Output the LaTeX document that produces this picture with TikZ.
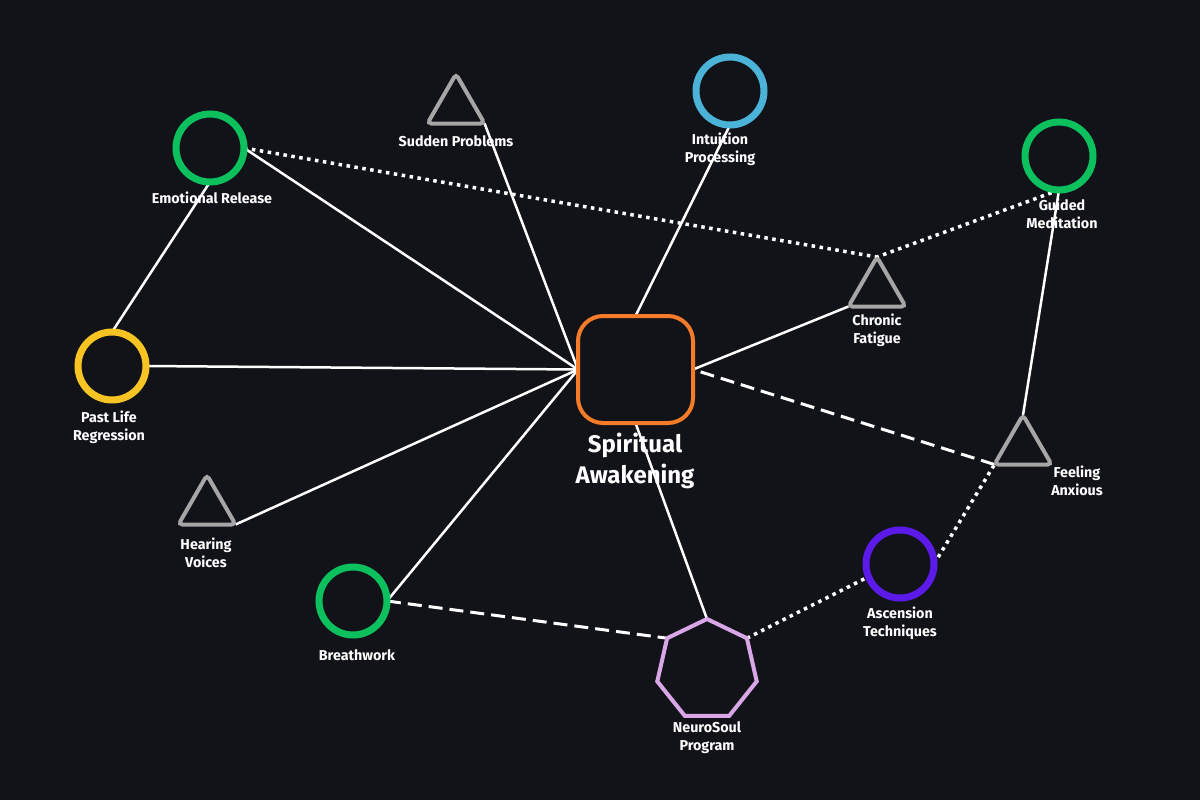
\documentclass[tikz,border=0pt]{standalone}
\usepackage{fontspec}
\setmainfont{Fira Sans}
\usetikzlibrary{shapes.geometric}
\definecolor{bg}{HTML}{121319}
\definecolor{cgreen}{HTML}{0CC05E}
\definecolor{cblue}{HTML}{4CB3D8}
\definecolor{cyellow}{HTML}{F8C424}
\definecolor{cpurple}{HTML}{5C1AEA}
\definecolor{corange}{HTML}{F47B2A}
\definecolor{clilac}{HTML}{D9A6E8}
\definecolor{cgray}{HTML}{A6A6A6}
\pgfdeclarelayer{bglayer}
\pgfdeclarelayer{labels}
\pgfdeclarelayer{edges}
\pgfsetlayers{bglayer,labels,edges,main}
\tikzset{
  circnode/.style={circle, draw=#1, line width=7pt, minimum size=68pt, inner sep=0pt, outer sep=0pt},
  trinode/.style={regular polygon, regular polygon sides=3, draw=cgray, line width=4pt, rounded corners=4pt, minimum size=66pt, inner sep=0pt, outer sep=0pt},
  hepnode/.style={regular polygon, regular polygon sides=7, draw=clilac, line width=4pt, minimum size=102pt, inner sep=0pt, outer sep=0pt},
  sqnode/.style={rectangle, draw=corange, line width=4pt, rounded corners=25pt, minimum width=115pt, minimum height=107pt, inner sep=0pt, outer sep=0pt},
  lbl/.style={text=white, font=\bfseries\fontsize{14.3}{18}\selectfont, align=center, inner sep=0pt},
  biglbl/.style={text=white, font=\bfseries\fontsize{24}{31}\selectfont, align=center, inner sep=0pt},
  conn/.style={draw=white, line width=2.5pt},
  dashconn/.style={conn, line width=3pt, dash pattern=on 14pt off 7pt},
  dotconn/.style={conn, line width=3.5pt, dash pattern=on 3.5pt off 4.5pt}
}
\begin{document}
\begin{tikzpicture}[x=1pt,y=-1pt]
\begin{pgfonlayer}{bglayer}
\fill[bg] (0,0) rectangle (1200,800);
\end{pgfonlayer}
\useasboundingbox (0,0) rectangle (1200,800);

% shapes
\node[circnode=cgreen] (er) at (210,148) {};
\node[trinode] (sp) at (456,107) {};
\node[circnode=cblue] (ip) at (730,91) {};
\node[circnode=cgreen] (gm) at (1059,156) {};
\node[trinode] (cf) at (877,290) {};
\node[sqnode] (sa) at (635.5,369.5) {};
\node[circnode=cyellow] (plr) at (112,366) {};
\node[trinode] (hv) at (207,508) {};
\node[circnode=cgreen] (bw) at (353,601) {};
\node[hepnode] (ns) at (707,670) {};
\node[circnode=cpurple] (asc) at (900,564) {};
\node[trinode] (fa) at (1023,448) {};

% labels
\begin{pgfonlayer}{labels}
\node[lbl] (ler) at (212,197.5) {Emotional Release};
\node[lbl] (lsp) at (456,141.5) {Sudden Problems};
\node[lbl] (lip) at (720,149.5) {Intuition\\Processing};
\node[lbl] (lgm) at (1062,213.5) {Guided\\Meditation};
\node[lbl] (lcf) at (877,330.5) {Chronic\\Fatigue};
\node[biglbl] (lsa) at (635,461) {Spiritual\\Awakening};
\node[lbl] (lplr) at (109,427.5) {Past Life\\Regression};
\node[lbl] (lhv) at (206,552.5) {Hearing\\Voices};
\node[lbl] (lbw) at (357,655.5) {Breathwork};
\node[lbl] (lns) at (707,737.5) {NeuroSoul\\Program};
\node[lbl] (lasc) at (900,623.5) {Ascension\\Techniques};
\node[lbl] (lfa) at (1077,480.5) {Feeling\\Anxious};
\end{pgfonlayer}

% connectors
\begin{pgfonlayer}{edges}
\draw[dotconn] (er.east) -- (cf.corner 1);
\draw[conn] (er.east) -- (sa.west);
\draw[conn] (er.south) -- (plr.north);
\draw[conn] (sp.corner 3) -- (sa.west);
\draw[conn] (ip.south) -- (sa.north);
\draw[dotconn] (gm.south) -- (cf.corner 1);
\draw[conn] (gm.south) -- (fa.corner 1);
\draw[conn] (cf.corner 2) -- (sa.east);
\draw[dashconn] (fa.corner 2) -- (sa.east);
\draw[conn] (plr.east) -- (sa.west);
\draw[conn] (hv.corner 3) -- (sa.west);
\draw[conn] (bw.east) -- (sa.west);
\draw[dashconn] (bw.east) -- (ns.corner 2);
\draw[conn] (sa.south) -- (ns.corner 1);
\draw[dotconn] (ns.corner 7) -- (asc.202);
\draw[dotconn] (asc.east) -- (fa.corner 2);
\end{pgfonlayer}
\end{tikzpicture}
\end{document}
